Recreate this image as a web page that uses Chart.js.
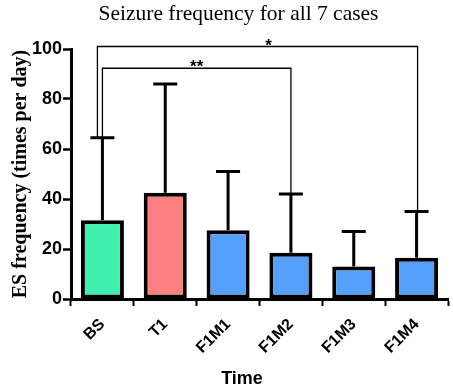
<!DOCTYPE html>
<html>
<head>
<meta charset="utf-8">
<script src="https://cdn.jsdelivr.net/npm/chart.js@4"></script>
<style>
  html, body { margin: 0; padding: 0; background: #fff; }
  canvas { display: block; }
</style>
</head>
<body>
<canvas id="chart" width="453" height="387"></canvas>
<script>
// values
const categories = ["BS", "T1", "F1M1", "F1M2", "F1M3", "F1M4"];
const means = [31.5, 42.5, 27.5, 18.5, 13, 16.5];
const upperErr = [64.5, 86, 51, 42, 27, 35]; // top of each error bar
const barColors = ["#40f0b0", "#ff8080", "#55a0fc", "#55a0fc", "#55a0fc", "#55a0fc"];

// significance brackets: from category, to category, bracket height, label
const bracketFrom = [0, 0];
const bracketTo = [3, 5];
const bracketLevel = [92.3, 101];
const bracketLabel = ["**", "*"];

const chartTitle = "Seizure frequency for all 7 cases";
const xTitle = "Time";
const yTitle = "ES frequency (times per day)";

const sansBold = { family: "'Liberation Sans', Arial, sans-serif", weight: "bold" };

// error whiskers, significance brackets and the (off-centre) titles
const extras = {
  id: "extras",
  afterDatasetsDraw(chart) {
    const ctx = chart.ctx;
    const x = chart.scales.x, y = chart.scales.y;
    ctx.save();
    ctx.strokeStyle = "#000";
    ctx.lineCap = "butt";

    // whiskers (upper only)
    ctx.lineWidth = 3;
    for (let i = 0; i < categories.length; i++) {
      const cx = x.getPixelForValue(i);
      const y0 = y.getPixelForValue(means[i]);
      const y1 = y.getPixelForValue(upperErr[i]);
      ctx.beginPath();
      ctx.moveTo(cx, y0);
      ctx.lineTo(cx, y1);
      ctx.moveTo(cx - 12, y1);
      ctx.lineTo(cx + 12, y1);
      ctx.stroke();
    }

    // brackets
    ctx.lineWidth = 1.3;
    ctx.fillStyle = "#000";
    ctx.font = "bold 17px 'Liberation Sans', Arial, sans-serif";
    ctx.textAlign = "center";
    ctx.textBaseline = "alphabetic";
    for (let b = 0; b < bracketFrom.length; b++) {
      const i = bracketFrom[b], j = bracketTo[b];
      const xa = x.getPixelForValue(i) + (b === 1 ? -5 : 0);
      const xb = x.getPixelForValue(j) + (b === 1 ? 1 : 0);
      const yl = y.getPixelForValue(bracketLevel[b]);
      ctx.beginPath();
      ctx.moveTo(xa, y.getPixelForValue(upperErr[i]));
      ctx.lineTo(xa, yl);
      ctx.lineTo(xb, yl);
      ctx.lineTo(xb, y.getPixelForValue(upperErr[j]));
      ctx.stroke();
      const lx = (xa + xb) / 2 + (b === 1 ? 11 : 0);
      ctx.fillText(bracketLabel[b], lx, yl + 4);
    }

    // chart title and x title sit a bit left of the plot centre in the original
    ctx.font = "21.5px 'Liberation Serif', 'Times New Roman', serif";
    ctx.fillText(chartTitle, 238.5, 20);
    ctx.font = "bold 18px 'Liberation Sans', Arial, sans-serif";
    ctx.fillText(xTitle, 242, 384);
    ctx.restore();
  }
};

new Chart("chart", {
  type: "bar",
  data: {
    labels: categories,
    datasets: [{
      data: means,
      backgroundColor: barColors,
      borderColor: "#000",
      borderWidth: 4,
      borderSkipped: false,
      barPercentage: 0.685,
      categoryPercentage: 1.0
    }]
  },
  options: {
    responsive: false,
    animation: false,
    devicePixelRatio: 1,
    layout: { padding: { left: 0, right: 5, top: 49, bottom: 0 } },
    plugins: {
      legend: { display: false },
      tooltip: { enabled: false },
      title: { display: false }
    },
    scales: {
      x: {
        afterFit: (s) => { s.height = 88; },
        grid: { display: true, drawOnChartArea: false, drawTicks: true, tickLength: 7, tickWidth: 2, tickColor: "#000" },
        border: { color: "#000", width: 3 },
        ticks: { color: "#000", font: { ...sansBold, size: 16 }, maxRotation: 45, minRotation: 45, padding: 9 }
      },
      y: {
        min: 0,
        max: 100,
        afterFit: (s) => { s.width = 71; },
        grid: { display: true, drawOnChartArea: false, drawTicks: true, tickLength: 8, tickWidth: 2.5, tickColor: "#000" },
        border: { color: "#000", width: 3 },
        ticks: { stepSize: 20, color: "#000", font: { ...sansBold, size: 18 }, padding: 1 },
        title: {
          display: true,
          text: yTitle,
          color: "#000",
          font: { family: "'Liberation Serif', 'Times New Roman', serif", size: 20, weight: "bold" },
          padding: { top: 9, bottom: 4 }
        }
      }
    }
  },
  plugins: [extras]
});
</script>
</body>
</html>
